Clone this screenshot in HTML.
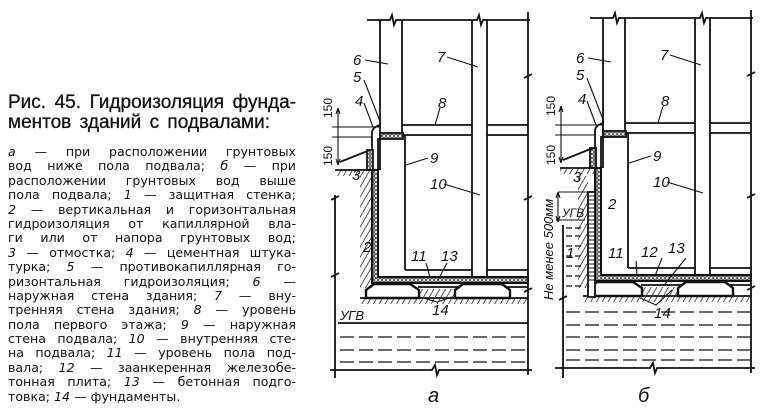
<!DOCTYPE html>
<html><head><meta charset="utf-8"><style>
html,body{margin:0;padding:0;background:#fff;}
body{width:768px;height:418px;position:relative;overflow:hidden;font-family:"DejaVu Sans","Liberation Sans",sans-serif;color:#111;}
.t{position:absolute;left:8px;width:288px;font-size:19px;line-height:20px;font-family:"Liberation Sans",sans-serif;text-align:justify;text-align-last:justify;white-space:nowrap;-webkit-text-stroke:0.3px #111;}
.b{position:absolute;left:8px;width:288px;font-size:12.6px;line-height:14.4px;font-family:"DejaVu Sans","Liberation Sans",sans-serif;}
.b div{text-align:justify;text-align-last:justify;height:14.4px;white-space:nowrap;}
.b div.l{text-align-last:left;}
svg{position:absolute;left:0;top:0;}
</style></head><body>
<div class="t" style="top:93px">Рис. 45. Гидроизоляция фунда-</div>
<div class="t" style="top:113px;width:262px">ментов зданий с подвалами:</div>
<div class="b" style="top:145px">
<div><i>а</i> — при расположении грунтовых</div>
<div>вод ниже пола подвала; <i>б</i> — при</div>
<div>расположении грунтовых вод выше</div>
<div>пола подвала; <i>1</i> — защитная стенка;</div>
<div><i>2</i> — вертикальная и горизонтальная</div>
<div>гидроизоляция от капиллярной вла-</div>
<div>ги или от напора грунтовых вод;</div>
<div><i>3</i> — отмостка; <i>4</i> — цементная штука-</div>
<div>турка; <i>5</i> — противокапиллярная го-</div>
<div>ризонтальная гидроизоляция; <i>6</i> —</div>
<div>наружная стена здания; <i>7</i> — вну-</div>
<div>тренняя стена здания; <i>8</i> — уровень</div>
<div>пола первого этажа; <i>9</i> — наружная</div>
<div>стена подвала; <i>10</i> — внутренняя сте-</div>
<div>на подвала; <i>11</i> — уровень пола под-</div>
<div>вала; <i>12</i> — заанкеренная железобе-</div>
<div>тонная плита; <i>13</i> — бетонная подго-</div>
<div class="l">товка; <i>14</i> — фундаменты.</div>
</div>
<svg width="768" height="418" viewBox="0 0 768 418">
<defs>
<pattern id="dots" width="4" height="4" patternUnits="userSpaceOnUse"><rect width="4" height="4" fill="#fff"/><circle cx="2" cy="2" r="1.3" fill="none" stroke="#111" stroke-width="0.9"/></pattern>
<pattern id="hat" width="5" height="5" patternUnits="userSpaceOnUse" patternTransform="rotate(30)"><line x1="0" y1="0" x2="0" y2="5" stroke="#111" stroke-width="1.4"/></pattern>
<g id="common" fill="none" stroke="#111" stroke-width="1.8">
 <path d="M367 20 H390 l2 -5 l2 10 l2 -5 H477 l2 -5 l2 10 l2 -5 H530"/>
 <path d="M528 12 V76 l4 -2 l-8 4 l4 -2 V198 l4 -2 l-8 4 l4 -2 V290 l4 -2 l-8 4 l4 -2 V375"/>
 <line x1="380" y1="20" x2="380" y2="127"/>
 <line x1="402" y1="20" x2="402" y2="133"/>
 <line x1="472" y1="20" x2="472" y2="277"/>
 <line x1="487" y1="20" x2="487" y2="277"/>
 <path d="M402 125 H472 M487 125 H528 M402 135 H472 M487 135 H528"/>
 <line x1="378" y1="138" x2="378" y2="277"/>
 <line x1="405" y1="135" x2="405" y2="270"/>
 <path d="M405 270 H472 M487 270 H528"/>
 <rect x="380" y="133" width="23" height="6" fill="url(#dots)"/>
 <path d="M372 170 V132 Q373 127 380 125 L380 170"/>
 <path d="M372 170 V283 H528 V277 H378 V170 Z" fill="url(#dots)" stroke-width="2"/>
 <line x1="418" y1="287" x2="528" y2="287"/>
 <path d="M366 298 V290 L374 284 H410 L419 290 V298 Z" fill="#fff" stroke-width="2.4"/>
 <path d="M455 298 V290 L463 284 H502 L510 290 V298 Z" fill="#fff" stroke-width="2.4"/>
 <path d="M360 298 H528"/>
 <rect x="360" y="299" width="168" height="5" fill="url(#hat)" stroke="none"/>
 <rect x="420" y="289" width="34" height="8" fill="url(#hat)" stroke="none"/>
 <path d="M365 60 L388 64 M447 57 L478 67 M364 80 L381 124 M364 103 L373 127 M440 108 L435 125 M428 158 L406 165 M444 184 L480 195" stroke-width="1.1"/>
 <g fill="#111" stroke="none" font-family="Liberation Sans,sans-serif" font-style="italic" font-size="15">
  <text x="353" y="65">6</text><text x="437" y="62">7</text><text x="353" y="82">5</text>
  <text x="355" y="106">4</text><text x="438" y="108">8</text><text x="430" y="163">9</text>
  <text x="430" y="189">10</text>
 </g>
</g>
</defs>

<use href="#common"/>
<g fill="none" stroke="#111" stroke-width="1.8">
 <rect x="367" y="150" width="6" height="20" fill="url(#dots)"/>
 <path d="M340 162 L370 150"/>
 <path d="M335 170 H372"/>
 <rect x="335" y="171" width="37" height="5" fill="url(#hat)" stroke="none"/>
 <rect x="360" y="176" width="12" height="112" fill="url(#hat)" stroke="none"/>
 <path d="M338 108 V165 M332 127 H380 M332 137 H372 M338 108 l-2 6 M338 108 l2 6 M338 165 l-2 -6 M338 165 l2 -6" stroke-width="1.1"/>
 <path d="M335 195 V198 l4 -2 l-8 4 l4 -2 V275 l4 -2 l-8 4 l4 -2 V378"/>
 <path d="M338 323 H528"/>
 <path d="M340 337 H528 M340 350 H528 M340 362 H528" stroke-dasharray="14 5" stroke-width="1.3"/>
 <path d="M330 370 H432 l3 -5 l2 10 l2 -5 H532"/>
 <path d="M426 263 L430 277 M447 263 L438 280 M420 297 L437 302 L452 297" stroke-width="1.1"/>
 <g fill="#111" stroke="none" font-family="Liberation Sans,sans-serif" font-style="italic" font-size="15">
  <text x="352" y="180">3</text><text x="363" y="252">2</text><text x="411" y="261">11</text><text x="441" y="261">13</text>
  <text x="432" y="315">14</text><text x="340" y="320" font-size="13">УГВ</text>
  <text x="428" y="402" font-size="20">а</text>
  <text transform="translate(332,118) rotate(-90)" font-size="12" font-style="normal">150</text>
  <text transform="translate(332,166) rotate(-90)" font-size="12" font-style="normal">150</text>
 </g>
</g>

<use href="#common" transform="translate(223,-2)"/>
<g fill="none" stroke="#111" stroke-width="1.8">
 <rect x="590" y="148" width="6" height="20" fill="url(#dots)"/>
 <path d="M563 160 L593 148"/>
 <path d="M560 168 H595"/>
 <rect x="560" y="169" width="35" height="5" fill="url(#hat)" stroke="none"/>
 <rect x="578" y="176" width="10" height="112" fill="url(#hat)" stroke="none"/>
 <rect x="588" y="192" width="7" height="105" fill="#fff"/>
 <path d="M588 196 H595 M588 200 H595 M588 204 H595 M588 208 H595 M588 212 H595 M588 216 H595 M588 220 H595 M588 224 H595 M588 228 H595 M588 232 H595 M588 236 H595 M588 240 H595 M588 244 H595 M588 248 H595 M588 252 H595 M588 256 H595 M588 260 H595 M588 264 H595 M588 268 H595 M588 272 H595 M588 276 H595 M588 280 H595" stroke-width="1.1"/>
 <path d="M561 106 V163 M555 125 H603 M555 135 H595 M561 106 l-2 6 M561 106 l2 6 M561 163 l-2 -6 M561 163 l2 -6" stroke-width="1.1"/>
 <path d="M558 192 H588 M558 192 V222 M558 192 l-2 6 M558 192 l2 6 M558 222 l-2 -6 M558 222 l2 -6 M556 220 H585" stroke-width="1.1"/>
 <path d="M563 225 V298 l4 -2 l-8 4 l4 -2 V378"/>
 <path d="M566 228 H582 M566 236 H580 M566 246 H582 M566 256 H580 M566 266 H582 M566 276 H580 M566 286 H582" stroke-dasharray="6 3" stroke-width="1.3"/>
 <path d="M566 312 H750 M566 325 H750 M566 337 H750 M566 350 H750 M566 360 H750" stroke-dasharray="14 5" stroke-width="1.3"/>
 <path d="M555 368 H650 l3 -5 l2 10 l2 -5 H755"/>
 <path d="M636 261 L637 275 M662 258 L655 276 M686 258 L665 284 M640 298 L656 305 L672 290" stroke-width="1.1"/>
 <g fill="#111" stroke="none" font-family="Liberation Sans,sans-serif" font-style="italic" font-size="15">
  <text x="573" y="182">3</text><text x="608" y="209">2</text><text x="566" y="258">1</text>
  <text x="608" y="258">11</text><text x="641" y="257">12</text><text x="668" y="253">13</text>
  <text x="654" y="318">14</text><text x="562" y="217" font-size="12">УГВ</text>
  <text x="638" y="402" font-size="20">б</text>
  <text transform="translate(555,116) rotate(-90)" font-size="12" font-style="normal">150</text>
  <text transform="translate(555,165) rotate(-90)" font-size="12" font-style="normal">150</text>
  <text transform="translate(553,300) rotate(-90)" font-size="13">Не менее 500мм</text>
 </g>
</g>
</svg>
</body></html>
